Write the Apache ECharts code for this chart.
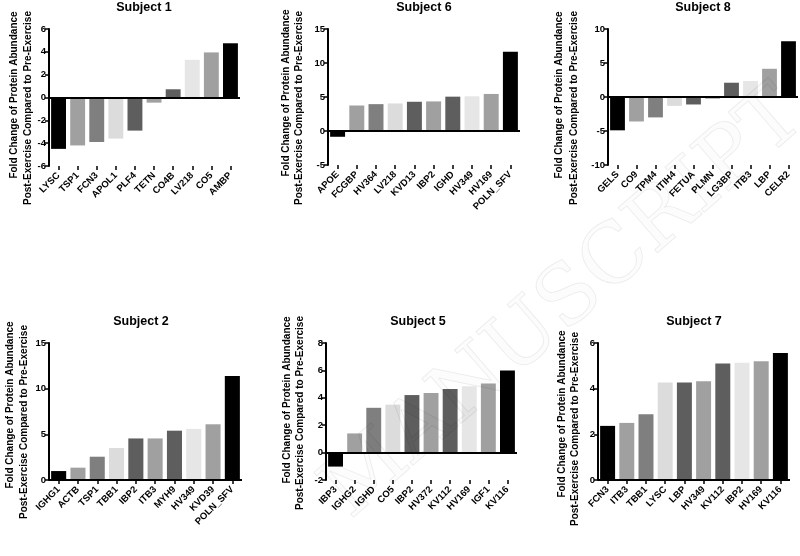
<!DOCTYPE html>
<html>
<head>
<meta charset="utf-8">
<script src="https://cdn.jsdelivr.net/npm/echarts@6/dist/echarts.min.js"></script>
<style>
html,body{margin:0;padding:0;background:#fff;}
#chart{width:800px;height:556px;}
</style>
</head>
<body>
<div id="chart"></div>
<script>
// ---- data ----
const subjectTitles = ['Subject 1', 'Subject 6', 'Subject 8', 'Subject 2', 'Subject 5', 'Subject 7'];

const proteins1 = ['LYSC', 'TSP1', 'FCN3', 'APOL1', 'PLF4', 'TETN', 'CO4B', 'LV218', 'CO5', 'AMBP'];
const values1   = [-4.5, -4.2, -3.9, -3.6, -2.9, -0.45, 0.72, 3.3, 3.95, 4.75];

const proteins6 = ['APOE', 'FCGBP', 'HV364', 'LV218', 'KVD13', 'IBP2', 'IGHD', 'HV349', 'HV169', 'POLN_SFV'];
const values6   = [-0.85, 3.75, 3.95, 4.05, 4.3, 4.35, 5.05, 5.1, 5.45, 11.65];

const proteins8 = ['GELS', 'CO9', 'TPM4', 'ITIH4', 'FETUA', 'PLMN', 'LG3BP', 'ITB3', 'LBP', 'CELR2'];
const values8   = [-4.9, -3.6, -3.0, -1.3, -1.1, -0.25, 2.1, 2.35, 4.15, 8.2];

const proteins2 = ['IGHG1', 'ACTB', 'TSP1', 'TBB1', 'IBP2', 'ITB3', 'MYH9', 'HV349', 'KVD39', 'POLN_SFV'];
const values2   = [0.98, 1.35, 2.55, 3.5, 4.55, 4.55, 5.4, 5.6, 6.1, 11.4];

const proteins5 = ['IBP3', 'IGHG2', 'IGHD', 'CO5', 'IBP2', 'HV372', 'KV112', 'HV169', 'IGF1', 'KV116'];
const values5   = [-1.02, 1.4, 3.27, 3.5, 4.2, 4.35, 4.65, 4.85, 5.05, 6.0];

const proteins7 = ['FCN3', 'ITB3', 'TBB1', 'LYSC', 'LBP', 'HV349', 'KV112', 'IBP2', 'HV169', 'KV116'];
const values7   = [2.37, 2.5, 2.88, 4.27, 4.27, 4.32, 5.1, 5.13, 5.2, 5.56];

// y-axis tick settings per subject (min, max, step)
const yMins  = [-6, -5, -10, 0, -2, 0];
const yMaxs  = [6, 15, 10, 15, 8, 6];
const ySteps = [2, 5, 5, 5, 2, 2];

const yTitleLine1 = 'Fold Change of Protein Abundance';
const yTitleLine2 = 'Post-Exercise Compared to Pre-Exercise';

// ---- styling / layout ----
const barColors = ['#000000', '#a0a0a0', '#7f7f7f', '#dcdcdc', '#5e5e5e', '#a0a0a0', '#5e5e5e', '#e6e6e6', '#a0a0a0', '#000000'];
const FONT = '"Liberation Sans", Arial, Helvetica, sans-serif';

const panels = [
  {cats: proteins1, vals: values1},
  {cats: proteins6, vals: values6},
  {cats: proteins8, vals: values8},
  {cats: proteins2, vals: values2},
  {cats: proteins5, vals: values5},
  {cats: proteins7, vals: values7}
];

const grids = [
  {left: 49,  top: 29,  width: 191, height: 137},
  {left: 328, top: 29,  width: 192, height: 136},
  {left: 608, top: 29,  width: 190, height: 136},
  {left: 49,  top: 343, width: 193, height: 137},
  {left: 326, top: 343, width: 191, height: 137},
  {left: 598, top: 343, width: 192, height: 137}
];

const titlePos = [
  {x: 144, y: 8}, {x: 424, y: 8}, {x: 703, y: 8},
  {x: 141, y: 322}, {x: 418, y: 322}, {x: 694, y: 322}
];

const yTitlePos = [
  {x1: 14, y1: 95, x2: 28, y2: 108},
  {x1: 286, y1: 93, x2: 299, y2: 108},
  {x1: 559, y1: 95, x2: 574, y2: 108},
  {x1: 10, y1: 405, x2: 24, y2: 422},
  {x1: 287, y1: 400, x2: 300, y2: 413},
  {x1: 562, y1: 414, x2: 575, y2: 429}
];

const option = {
  backgroundColor: '#ffffff',
  animation: false,
  grid: grids.map(g => Object.assign({containLabel: false}, g)),
  xAxis: panels.map((p, i) => ({
    type: 'category',
    gridIndex: i,
    data: p.cats,
    position: 'bottom',
    axisLine: {show: true, onZero: false, lineStyle: {color: 'rgba(0,0,0,0)', width: 0}},
    axisTick: {show: true, alignWithLabel: true, length: 4, lineStyle: {color: '#000', width: 1.5}},
    axisLabel: {
      interval: 0, rotate: 45, margin: 8,
      color: '#000', fontFamily: FONT, fontWeight: 'bold', fontSize: 9.5
    },
    splitLine: {show: false}
  })),
  yAxis: panels.map((p, i) => ({
    type: 'value',
    gridIndex: i,
    min: yMins[i], max: yMaxs[i], interval: ySteps[i],
    axisLine: {show: true, lineStyle: {color: '#000', width: 2}},
    axisTick: {show: true, length: 4, lineStyle: {color: '#000', width: 1.5}},
    axisLabel: {color: '#000', fontFamily: FONT, fontWeight: 'bold', fontSize: 9.5, margin: 3},
    splitLine: {show: false}
  })),
  series: panels.map((p, i) => ({
    type: 'bar',
    xAxisIndex: i, yAxisIndex: i,
    barCategoryGap: '22%',
    data: p.vals.map((v, k) => ({value: v, itemStyle: {color: barColors[k % barColors.length]}})),
    markLine: {
      silent: true,
      symbol: ['none', 'none'],
      label: {show: false},
      lineStyle: {color: '#000', width: 2, type: 'solid'},
      data: [{yAxis: 0}]
    },
    z: 2
  })),
  graphic: []
};

subjectTitles.forEach((t, i) => {
  option.graphic.push({
    type: 'text', x: titlePos[i].x, y: titlePos[i].y, silent: true,
    style: {text: t, fill: '#000', font: 'bold 12.5px ' + FONT, textAlign: 'center', textVerticalAlign: 'middle'}
  });
  const yp = yTitlePos[i];
  option.graphic.push({
    type: 'text', x: yp.x1, y: yp.y1, rotation: Math.PI / 2, silent: true,
    style: {text: yTitleLine1, fill: '#000', font: 'bold 10px ' + FONT, textAlign: 'center', textVerticalAlign: 'middle'}
  });
  option.graphic.push({
    type: 'text', x: yp.x2, y: yp.y2, rotation: Math.PI / 2, silent: true,
    style: {text: yTitleLine2, fill: '#000', font: 'bold 10px ' + FONT, textAlign: 'center', textVerticalAlign: 'middle'}
  });
});

// faint diagonal watermark
option.graphic.push({
  type: 'text', x: 565, y: 305, rotation: 41 * Math.PI / 180, silent: true, z: 100,
  style: {text: 'MANUSCRIPT', fill: 'rgba(0,0,0,0.01)', stroke: 'rgba(0,0,0,0.07)', lineWidth: 1,
          font: '82px "DejaVu Serif", "Liberation Serif", serif', textAlign: 'center', textVerticalAlign: 'middle'}
});

const chart = echarts.init(document.getElementById('chart'), null, {renderer: 'canvas'});
chart.setOption(option);
</script>
</body>
</html>
